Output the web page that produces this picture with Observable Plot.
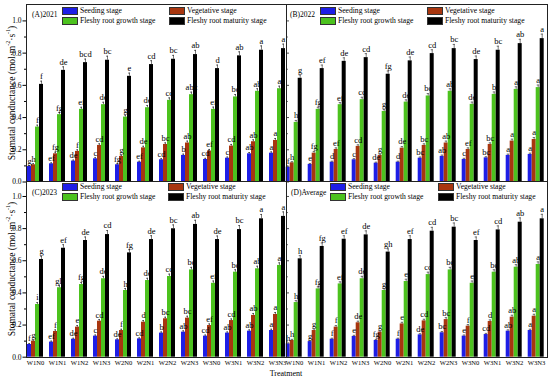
<!DOCTYPE html>
<html><head><meta charset="utf-8">
<script src="https://cdn.jsdelivr.net/npm/d3@7"></script>
<script src="https://cdn.jsdelivr.net/npm/@observablehq/plot@0.6"></script>
<style>
body{margin:0;background:#fff;}
#chart{position:relative;width:550px;height:381px;overflow:hidden;font-family:"Liberation Serif","Times New Roman",serif;color:#000;background:#fff;}
.wrap{position:absolute;}
.wrap svg{overflow:visible;background:transparent;display:block;}
.frame{position:absolute;border:1px solid #222;box-sizing:border-box;pointer-events:none;}
.title{position:absolute;font-size:7.5px;line-height:1;white-space:nowrap;transform:translateY(-50%);}
.leg{position:absolute;font-size:7.6px;line-height:8px;white-space:nowrap;display:flex;align-items:center;}
.sw{width:16px;height:8px;margin-right:2px;box-sizing:border-box;border:0.5px solid #333;}
.ylab{position:absolute;font-size:9.5px;white-space:nowrap;transform:translate(-50%,-50%) rotate(-90deg);}
.ylab sup{font-size:6px;}
.xtitle{position:absolute;font-size:8px;white-space:nowrap;transform:translate(-50%,-50%);}
</style></head><body><div id="chart"></div>
<script>
const treatments = ["W1N0","W1N1","W1N2","W1N3","W2N0","W2N1","W2N2","W2N3","W3N0","W3N1","W3N2","W3N3"];
const stages = ["Seeding stage","Vegetative stage","Fleshy root growth stage","Fleshy root maturity stage"];
const stageColors = ["#1e1ee6","#a8360f","#4cc21e","#000000"];
const yTicksMajor = [0, 0.2, 0.4, 0.6, 0.8, 1.0];
const yTicksMinor = [0.1, 0.3, 0.5, 0.7, 0.9];

// (A) 2021
const a_seed   = [0.096,0.113,0.130,0.144,0.107,0.123,0.138,0.165,0.140,0.148,0.175,0.179];
const a_veg    = [0.107,0.175,0.190,0.227,0.159,0.212,0.233,0.242,0.192,0.223,0.250,0.258];
const a_growth = [0.341,0.418,0.451,0.480,0.403,0.461,0.507,0.542,0.451,0.528,0.563,0.579];
const a_mature = [0.606,0.693,0.741,0.756,0.656,0.729,0.762,0.791,0.704,0.783,0.818,0.828];
const a_seedL   = ["g","ef","de","c","fg","ef","cd","b","cd","c","ab","a"];
const a_vegL    = ["h","fg","f","cd","g","de","bc","ab","ef","cd","ab","a"];
const a_growthL = ["f","fg","ef","de","g","de","cd","abc","ef","bc","ab","a"];
const a_matureL = ["f","de","bcd","bc","e","cd","bc","ab","d","ab","a","a"];

// (B) 2022
const b_seed   = [0.092,0.109,0.123,0.138,0.117,0.123,0.148,0.159,0.140,0.150,0.165,0.171];
const b_veg    = [0.119,0.179,0.202,0.221,0.165,0.210,0.227,0.242,0.202,0.233,0.254,0.264];
const b_growth = [0.370,0.451,0.480,0.511,0.438,0.496,0.534,0.563,0.482,0.544,0.575,0.586];
const b_mature = [0.644,0.704,0.749,0.772,0.669,0.752,0.797,0.828,0.760,0.818,0.859,0.890];
const b_seedL   = ["f","e","d","c","de","d","bc","ab","c","bc","a","a"];
const b_vegL    = ["h","fg","ef","cd","g","de","bc","ab","ef","bc","a","a"];
const b_growthL = ["h","fg","ef","cd","g","de","bc","ab","de","b","a","a"];
const b_matureL = ["g","ef","de","cd","fg","de","cd","bc","de","bc","ab","a"];

// (C) 2023
const c_seed   = [0.079,0.094,0.112,0.131,0.108,0.114,0.150,0.156,0.131,0.150,0.162,0.166];
const c_veg    = [0.100,0.160,0.187,0.224,0.166,0.218,0.239,0.243,0.197,0.228,0.260,0.266];
const c_growth = [0.328,0.432,0.452,0.488,0.415,0.477,0.502,0.543,0.460,0.529,0.550,0.571];
const c_mature = [0.608,0.678,0.726,0.763,0.649,0.732,0.799,0.826,0.732,0.794,0.861,0.876];
const c_seedL   = ["f","ef","de","c","de","cd","b","ab","cd","ab","ab","a"];
const c_vegL    = ["g","f","e","cd","f","d","bc","bc","ef","cd","ab","a"];
const c_growthL = ["i","gh","fg","de","h","de","cd","bc","ef","bc","ab","a"];
const c_matureL = ["g","ef","de","cd","fg","de","bc","ab","de","bc","a","a"];

// (D) Average
const d_seed   = [0.083,0.097,0.112,0.129,0.104,0.112,0.139,0.152,0.131,0.141,0.162,0.166];
const d_veg    = [0.104,0.166,0.187,0.214,0.156,0.207,0.226,0.234,0.193,0.222,0.249,0.255];
const d_growth = [0.340,0.425,0.456,0.488,0.415,0.471,0.514,0.543,0.460,0.529,0.560,0.577];
const d_mature = [0.612,0.689,0.734,0.761,0.654,0.732,0.784,0.809,0.726,0.792,0.840,0.861];
const d_seedL   = ["h","g","f","e","fg","f","de","bc","e","cd","ab","a"];
const d_vegL    = ["h","g","f","de","g","e","cd","bc","f","d","ab","a"];
const d_growthL = ["h","fg","ef","de","g","e","cd","bc","e","bc","ab","a"];
const d_matureL = ["h","fg","ef","de","gh","ef","cd","bc","ef","cd","ab","a"];

// error bars (approximate, per stage)
const errSeed   = [0.006,0.006,0.006,0.007,0.006,0.006,0.007,0.008,0.007,0.007,0.008,0.008];
const errVeg    = [0.007,0.010,0.010,0.010,0.008,0.010,0.010,0.012,0.010,0.010,0.012,0.012];
const errGrowth = [0.012,0.013,0.013,0.015,0.012,0.014,0.015,0.016,0.014,0.015,0.016,0.016];
const errMature = [0.020,0.022,0.022,0.025,0.020,0.024,0.024,0.026,0.022,0.025,0.027,0.028];
const errs = [errSeed, errVeg, errGrowth, errMature];

const chart = document.getElementById("chart");
const FONT = '"Liberation Serif","Times New Roman",serif';

function rows(vals, lets) {
  const out = [];
  treatments.forEach((t, i) => stages.forEach((s, j) => out.push({
    treatment: t, stage: s, value: vals[j][i], err: errs[j][i], letter: lets[j][i]
  })));
  return out;
}

function place(node, left, top) {
  const w = document.createElement("div");
  w.className = "wrap";
  w.style.left = left + "px"; w.style.top = top + "px";
  w.appendChild(node);
  chart.appendChild(w);
}

function panel(cfg) {
  const data = rows(cfg.vals, cfg.lets);
  const marks = [
    Plot.barY(data, {fx: "treatment", x: "stage", y: "value", fill: "stage"}),
    Plot.ruleX(data, {fx: "treatment", x: "stage", y1: "value", y2: d => d.value + d.err, stroke: "#222", strokeWidth: 0.6}),
    Plot.tickY(data, {fx: "treatment", x: "stage", y: d => d.value + d.err, stroke: "#222", strokeWidth: 0.6, insetLeft: 1, insetRight: 1}),
    Plot.text(data, {fx: "treatment", x: "stage", y: d => d.value + d.err, text: "letter", dy: -4.8, fontSize: 8.5, fill: "#000"})
  ];
  if (cfg.xLabels) marks.push(Plot.axisFx({anchor: "bottom", tickSize: 0, tickPadding: 3, fontSize: 6.6, label: null}));
  const fxOpts = {domain: treatments, padding: 0.17};
  if (!cfg.xLabels) fxOpts.axis = null;
  const p = Plot.plot({
    width: cfg.width, height: cfg.height,
    marginLeft: cfg.mL, marginRight: cfg.mR, marginTop: cfg.mT, marginBottom: cfg.mB,
    fx: fxOpts,
    x: {domain: stages, padding: 0, axis: null},
    y: {domain: [0, 1.1], axis: null},
    color: {domain: stages, range: stageColors},
    style: {fontFamily: FONT, fontSize: "8px", background: "transparent", overflow: "visible", color: "#000"},
    marks
  });
  place(p, cfg.left, cfg.top);
}

function yAxis(cfg) {
  const marks = [];
  if (cfg.labels) {
    marks.push(Plot.axisY(yTicksMajor, {anchor: "left", tickSize: 3.5, tickPadding: 1.5, tickFormat: d3.format(".1f"), fontSize: 7.5, label: null}));
    marks.push(Plot.axisY(yTicksMinor, {anchor: "left", tickSize: 2, tickFormat: () => "", label: null}));
  } else {
    marks.push(Plot.tickY(yTicksMajor, {y: d => d, stroke: "#222", strokeWidth: 0.8}));
    marks.push(Plot.tickY(yTicksMinor, {y: d => d, stroke: "#222", strokeWidth: 0.8, insetRight: 1.2}));
  }
  const p = Plot.plot({
    width: 40, height: cfg.height,
    marginLeft: 26, marginRight: cfg.labels ? 10 : 11, marginTop: cfg.mT, marginBottom: cfg.mB,
    y: {domain: [0, 1.1], axis: null},
    style: {fontFamily: FONT, fontSize: "7.5px", background: "transparent", overflow: "visible", color: "#000"},
    marks
  });
  place(p, cfg.left, cfg.top);
}

function frame(left, top, w, h) {
  const f = document.createElement("div");
  f.className = "frame";
  Object.assign(f.style, {left: left + "px", top: top + "px", width: w + "px", height: h + "px"});
  chart.appendChild(f);
}

function title(text, left, top) {
  const t = document.createElement("div");
  t.className = "title"; t.textContent = text;
  t.style.left = left + "px"; t.style.top = top + "px";
  chart.appendChild(t);
}

function legend(x1, x2, y1, y2) {
  const pos = [[x1, y1], [x2, y1], [x1, y2], [x2, y2]];
  stages.forEach((s, i) => {
    const d = document.createElement("div");
    d.className = "leg";
    d.style.left = pos[i][0] + "px"; d.style.top = pos[i][1] + "px";
    const sw = document.createElement("div");
    sw.className = "sw"; sw.style.background = stageColors[i];
    const tx = document.createElement("span"); tx.textContent = s;
    d.appendChild(sw); d.appendChild(tx);
    chart.appendChild(d);
  });
}

// panels
panel({vals: [a_seed, a_veg, a_growth, a_mature], lets: [a_seedL, a_vegL, a_growthL, a_matureL],
  left: 0, top: 0, width: 290, height: 190, mL: 25, mR: 2, mT: 4.3, mB: 8.5, xLabels: false});
panel({vals: [b_seed, b_veg, b_growth, b_mature], lets: [b_seedL, b_vegL, b_growthL, b_matureL],
  left: 280, top: 0, width: 270, height: 190, mL: 3.3, mR: 3.8, mT: 4.3, mB: 8.5, xLabels: false});
panel({vals: [c_seed, c_veg, c_growth, c_mature], lets: [c_seedL, c_vegL, c_growthL, c_matureL],
  left: 0, top: 175, width: 290, height: 206, mL: 25, mR: 2, mT: 4.9, mB: 24.3, xLabels: true});
panel({vals: [d_seed, d_veg, d_growth, d_mature], lets: [d_seedL, d_vegL, d_growthL, d_matureL],
  left: 280, top: 175, width: 270, height: 206, mL: 3.3, mR: 3.8, mT: 4.9, mB: 24.3, xLabels: true});

yAxis({labels: true, left: 0, top: 0, height: 190, mT: 4.3, mB: 8.5});
yAxis({labels: false, left: 260, top: 0, height: 190, mT: 4.3, mB: 8.5});
yAxis({labels: true, left: 0, top: 175, height: 206, mT: 4.9, mB: 24.3});
yAxis({labels: false, left: 260, top: 175, height: 206, mT: 4.9, mB: 24.3});

frame(26, 4, 261, 178);
frame(286, 4, 262, 178);
frame(26, 181, 261, 176.5);
frame(286, 181, 262, 176.5);

title("(A)2021", 32, 15);
title("(B)2022", 290, 15);
title("(C)2023", 32, 193);
title("(D)Average", 291, 193);

legend(62, 169, 6.7, 16.7);
legend(320, 427, 6.7, 16.7);
legend(62, 168, 183, 193);
legend(330, 438, 183, 193);

["A", "C"].forEach((k, i) => {
  const yl = document.createElement("div");
  yl.className = "ylab";
  yl.innerHTML = "Stomatal conductance (mol·m<sup>-2</sup>·s<sup>-1</sup>)";
  yl.style.left = "11px"; yl.style.top = (i === 0 ? 93 : 269) + "px";
  chart.appendChild(yl);
});

const xt = document.createElement("div");
xt.className = "xtitle"; xt.textContent = "Treatment";
xt.style.left = "286px"; xt.style.top = "373px";
chart.appendChild(xt);
</script></body></html>
